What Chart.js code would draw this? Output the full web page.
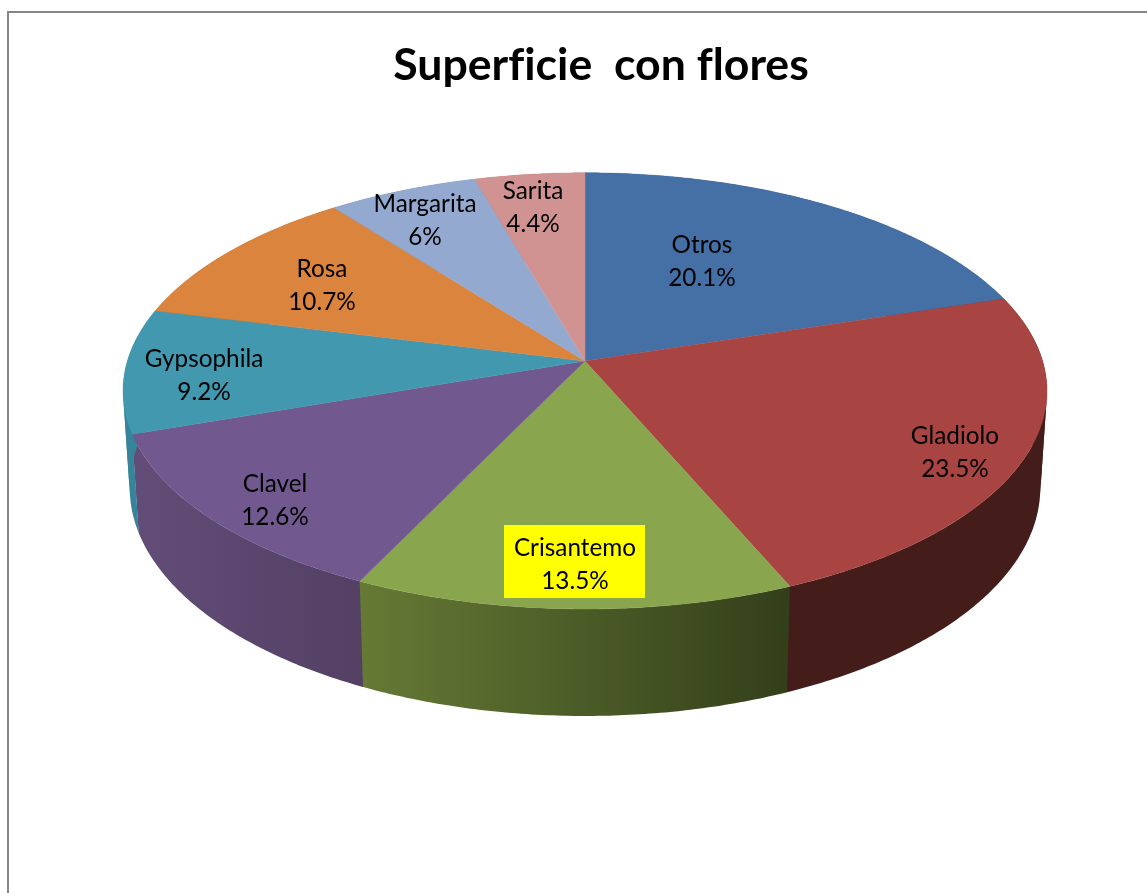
<!DOCTYPE html>
<html>
<head>
<meta charset="utf-8">
<title>Superficie con flores</title>
<script src="https://cdn.jsdelivr.net/npm/chart.js@4/dist/chart.umd.min.js"></script>
<style>
  html, body { margin: 0; padding: 0; background: #fff; overflow: hidden; }
  #frame { position: absolute; left: 7px; top: 11px; width: 1140px; height: 882px;
           border-left: 2px solid #868686; border-top: 2px solid #868686; box-sizing: border-box; }
  #chart { position: absolute; left: 0; top: 0; }
</style>
</head>
<body>
<div id="frame"></div>
<canvas id="chart" width="1147" height="893"></canvas>
<script>
'use strict';

var chartTitle = 'Superficie  con flores';
var flowers = ['Otros', 'Gladiolo', 'Crisantemo', 'Clavel', 'Gypsophila', 'Rosa', 'Margarita', 'Sarita'];
var shares = [20.1, 23.5, 13.5, 12.6, 9.2, 10.7, 6, 4.4];

var topColors = ['#4570a6', '#a84442', '#89a54e', '#71588f', '#4198af', '#db843d', '#93a9cf', '#d19392'];
// left and right colour of the side wall of each slice
var wallColors = [
    ['#2f4d73', '#2f4d73'], ['#441c19', '#441c19'], ['#667a35', '#333f1a'], ['#624d78', '#534063'],
    ['#37849a', '#37849a'], ['#a0602c', '#a0602c'], ['#6d7f9c', '#6d7f9c'], ['#9c6e6d', '#9c6e6d']
];

// where each label sits on the page (centre x, centre y of first line)
var labelSpots = [[702, 245], [955, 436], [575, 548], [275, 484], [204, 359], [322, 269], [425, 204], [533, 191]];
var LINE_GAP = 33;

// perspective of the disc: top face and bottom face
var APEX_X = 585, PERSP = 0.137;
var TOP_FACE = { y: 361, rx: 457.6, ry: 214 };
var BOTTOM_FACE = { y: 456.4, rx: 451, ry: 224 };

function project(face, angle) {
    // chart.js angles: -PI/2 is the top of the pie
    var a = angle + Math.PI / 2;
    var sx = Math.sin(a), cy = Math.cos(a);
    var d = 1 + PERSP * cy;
    return [APEX_X + face.rx * sx / d, face.y - face.ry * cy / d];
}

function rimPoints(face, start, end) {
    var pts = [];
    var steps = Math.max(2, Math.ceil((end - start) / 0.01));
    for (var i = 0; i <= steps; i++) {
        pts.push(project(face, start + (end - start) * i / steps));
    }
    return pts;
}

function tracePoints(ctx, pts) {
    for (var i = 0; i < pts.length; i++) {
        ctx.lineTo(pts[i][0], pts[i][1]);
    }
}

function stripFacesRight(a, b, lowerA) {
    return (b[0] - a[0]) * (lowerA[1] - a[1]) - (b[1] - a[1]) * (lowerA[0] - a[0]) > 0;
}

function drawWall(ctx, arc, index) {
    // tiny overlap into the next slice so no white seam shows between walls
    var upper = rimPoints(TOP_FACE, arc.startAngle, arc.endAngle + 0.003);
    var lower = rimPoints(BOTTOM_FACE, arc.startAngle, arc.endAngle + 0.003);
    var xs = upper.concat(lower).map(function(p) { return p[0]; });
    var grad = ctx.createLinearGradient(Math.min.apply(null, xs), 0, Math.max.apply(null, xs), 0);
    grad.addColorStop(0, wallColors[index][0]);
    grad.addColorStop(1, wallColors[index][1]);
    ctx.fillStyle = grad;
    // the wall folds at the sides of the disc, so strips of each direction get their own path
    [true, false].forEach(function(side) {
        ctx.beginPath();
        for (var i = 0; i < upper.length - 1; i++) {
            if (stripFacesRight(upper[i], upper[i + 1], lower[i]) === side) {
                ctx.moveTo(upper[i][0], upper[i][1]);
                tracePoints(ctx, [upper[i + 1], lower[i + 1], lower[i]]);
                ctx.closePath();
            }
        }
        ctx.fill();
    });
}

function drawTop(ctx, arc, index) {
    ctx.beginPath();
    ctx.moveTo(APEX_X, TOP_FACE.y);
    tracePoints(ctx, rimPoints(TOP_FACE, arc.startAngle, arc.endAngle));
    ctx.closePath();
    ctx.fillStyle = topColors[index];
    ctx.strokeStyle = topColors[index];
    ctx.lineWidth = 0.4;
    ctx.fill();
    ctx.stroke();
}

function drawLabels(ctx) {
    ctx.font = '24.3px Lato';
    ctx.textAlign = 'center';
    ctx.textBaseline = 'middle';
    // only Crisantemo has a highlighted label
    ctx.fillStyle = '#ffff00';
    ctx.fillRect(504, 525, 141, 73);
    ctx.fillStyle = '#000';
    for (var i = 0; i < flowers.length; i++) {
        ctx.fillText(flowers[i], labelSpots[i][0], labelSpots[i][1]);
        ctx.fillText(shares[i] + '%', labelSpots[i][0], labelSpots[i][1] + LINE_GAP);
    }
}

var pie3d = {
    id: 'pie3d',
    beforeDraw: function(chart) {
        // no fi ligature in the title
        chart.ctx.letterSpacing = '0.01px';
    },
    beforeDatasetsDraw: function(chart) {
        var ctx = chart.ctx;
        var arcs = chart.getDatasetMeta(0).data;
        ctx.save();
        arcs.forEach(function(arc, i) { drawWall(ctx, arc, i); });
        arcs.forEach(function(arc, i) { drawTop(ctx, arc, i); });
        drawLabels(ctx);
        ctx.restore();
        return false;
    }
};

new Chart(document.getElementById('chart'), {
    type: 'pie',
    data: {
        labels: flowers,
        datasets: [{ data: shares, backgroundColor: topColors, borderWidth: 0 }]
    },
    options: {
        responsive: false,
        animation: false,
        layout: { padding: { left: 55 } },
        plugins: {
            legend: { display: false },
            tooltip: { enabled: false },
            title: {
                display: true,
                text: chartTitle,
                color: '#000',
                font: { family: 'Lato', size: 44.6, weight: 'bold' },
                padding: { top: 39, bottom: 10 }
            }
        }
    },
    plugins: [pie3d]
});
</script>
</body>
</html>
